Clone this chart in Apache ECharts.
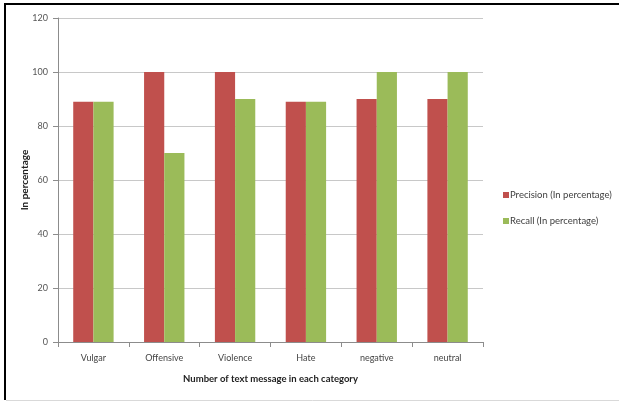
<!DOCTYPE html>
<html>
<head>
<meta charset="utf-8">
<script src="https://cdn.jsdelivr.net/npm/echarts@6/dist/echarts.min.js"></script>
<style>
  html, body { margin: 0; padding: 0; background: #fff; }
  #chart { width: 619px; height: 402px; }
</style>
</head>
<body>
<div id="chart"></div>
<script>
// Categories of text messages
const categories = ['Vulgar', 'Offensive', 'Violence', 'Hate', 'negative', 'neutral'];
// Precision and recall per category, in percent
const precision = [89, 100, 100, 89, 90, 90];
const recall = [89, 70, 90, 89, 100, 100];
// Value axis range
const yMin = 0, yMax = 120, yStep = 20;

const chart = echarts.init(document.getElementById('chart'));
const labelFont = 'Lato, "Open Sans", sans-serif';

chart.setOption({
  animation: false,
  backgroundColor: '#ffffff',
  grid: { left: 58, right: 136, top: 18, bottom: 60 },
  legend: {
    orient: 'vertical',
    left: 498,
    top: 185,
    itemWidth: 6,
    itemHeight: 6,
    itemGap: 16,
    icon: 'rect',
    textStyle: { fontFamily: labelFont, fontSize: 9.5, color: '#404040', padding: [0, 0, 0, -4] },
    data: ['Precision (In percentage)', 'Recall (In percentage)']
  },
  xAxis: {
    type: 'category',
    data: categories,
    name: 'Number of text message in each category',
    nameLocation: 'middle',
    nameGap: 32,
    nameMoveOverlap: false,
    nameTextStyle: { fontFamily: labelFont, fontSize: 9.5, fontWeight: 'bold', color: '#222' },
    axisLine: { lineStyle: { color: '#8c8c8c' } },
    axisTick: { show: true, length: 5, lineStyle: { color: '#8c8c8c' } },
    axisLabel: { fontFamily: labelFont, fontSize: 9, color: '#444', margin: 12 }
  },
  yAxis: {
    type: 'value',
    min: yMin,
    max: yMax,
    interval: yStep,
    name: 'In percentage',
    nameLocation: 'middle',
    nameGap: 28,
    nameMoveOverlap: false,
    nameRotate: 90,
    nameTextStyle: { fontFamily: labelFont, fontSize: 10, fontWeight: 'bold', color: '#222' },
    axisLine: { show: true, lineStyle: { color: '#8c8c8c' } },
    axisTick: { show: true, length: 5, lineStyle: { color: '#8c8c8c' } },
    axisLabel: { fontFamily: labelFont, fontSize: 9, color: '#555', margin: 10 },
    splitLine: { lineStyle: { color: '#c8c8c8', width: 1 } }
  },
  series: [
    {
      name: 'Precision (In percentage)',
      type: 'bar',
      data: precision,
      barGap: '0%',
      barCategoryGap: '43%',
      itemStyle: { color: '#C0504D' }
    },
    {
      name: 'Recall (In percentage)',
      type: 'bar',
      data: recall,
      barGap: '0%',
      barCategoryGap: '43%',
      itemStyle: { color: '#9BBB59' }
    }
  ],
  graphic: [
    // page frame: black top and left edges, light bottom edge
    { type: 'line', shape: { x1: 4, y1: 4, x2: 619, y2: 4 }, style: { stroke: '#000', lineWidth: 2 } },
    { type: 'line', shape: { x1: 5, y1: 3, x2: 5, y2: 400 }, style: { stroke: '#000', lineWidth: 2 } },
    { type: 'line', shape: { x1: 6, y1: 400.5, x2: 619, y2: 400.5 }, style: { stroke: '#d9d9d9', lineWidth: 1 } }
  ]
});
</script>
</body>
</html>
